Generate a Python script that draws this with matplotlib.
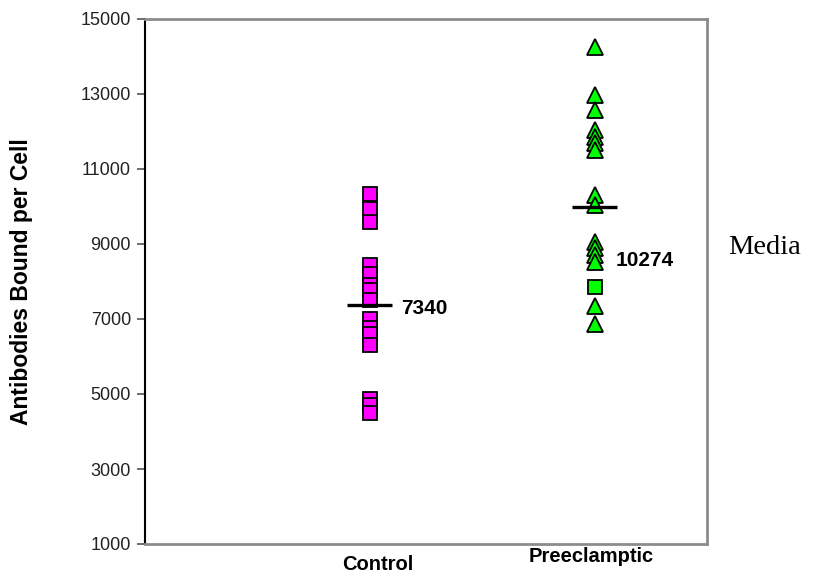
import matplotlib
matplotlib.use("Agg")
import matplotlib.pyplot as plt
import matplotlib.transforms as mtransforms

# ---- data ----
categories = ["Control", "Preeclamptic"]
positions = [1, 2]
control_values = [10330, 9940, 9590, 8450, 8200, 7900, 7770, 7500,
                  7000, 6760, 6600, 6300, 4860, 4700, 4500]
pre_triangle_values = [14260, 12970, 12570, 12040, 11850, 11690, 11510,
                       10300, 10040, 9060, 8890, 8710, 8530, 7350, 6870]
pre_square_values = [7850]
pre_x_values = [8970]
center_lines = [7360, 9980]
center_labels = ["7340", "10274"]
yticks = [1000, 3000, 5000, 7000, 9000, 11000, 13000, 15000]

plt.rcParams['font.family'] = ['Liberation Sans', 'DejaVu Sans']

fig = plt.figure(figsize=(8.17, 5.84), dpi=100)
ax = fig.add_axes([145/817, 1-544/584, (707-145)/817, (544-19)/584])

ax.set_xlim(0, 2.5)
ax.set_ylim(1000, 15000)

ax.plot([positions[0]]*len(control_values), control_values, ls='none',
        marker='s', ms=10.5, mfc='#ff00ff', mec='black', mew=1.3, zorder=3)
ax.plot([positions[1]]*len(pre_triangle_values), pre_triangle_values, ls='none',
        marker='^', ms=11, mfc='#00ff00', mec='black', mew=1.3, zorder=3)
ax.plot([positions[1]]*len(pre_square_values), pre_square_values, ls='none',
        marker='s', ms=10.5, mfc='#00ff00', mec='black', mew=1.3, zorder=3)
ax.plot([positions[1]]*len(pre_x_values), pre_x_values, ls='none',
        marker='x', ms=6, mec='#ff88bb', mew=1.2, zorder=2)

for p, v in zip(positions, center_lines):
    ax.plot([p-0.1, p+0.1], [v, v], color='black', lw=2.4, zorder=4,
            solid_capstyle='butt')

ax.text(positions[0]+0.14, 7270, center_labels[0],
        fontsize=15, fontweight='bold', va='center', ha='left')
ax.text(positions[1]+0.095, 8560, center_labels[1],
        fontsize=15, fontweight='bold', va='center', ha='left')

ax.set_yticks(yticks)
ax.set_yticklabels([str(t) for t in yticks], fontsize=13, color='#222222')
ax.set_xticks([])
ax.tick_params(axis='y', direction='out', length=6, width=1.2, pad=4,
               color='#555555')

for s in ['top', 'right', 'bottom']:
    ax.spines[s].set_color('#8c8c8c')
    ax.spines[s].set_linewidth(2)
ax.spines['left'].set_color('black')
ax.spines['left'].set_linewidth(1.5)

ax.set_ylabel("Antibodies Bound per Cell", fontsize=16.5, fontweight='bold')
ax.yaxis.set_label_coords(-0.2, 0.5)

trans = mtransforms.blended_transform_factory(ax.transData, fig.transFigure)
ax.text(positions[0]+0.036, 1-565/584, categories[0], transform=trans,
        fontsize=14.5, fontweight='bold', ha='center', va='center')
ax.text(positions[1]-0.013, 1-556/584, categories[1], transform=trans,
        fontsize=14.5, fontweight='bold', ha='center', va='center')

fig.text(728/817, 1-248/584, "Media", fontsize=20.5,
         family=['Liberation Serif', 'DejaVu Serif'], ha='left', va='center')

fig.savefig("out.png", dpi=100, facecolor='white')
